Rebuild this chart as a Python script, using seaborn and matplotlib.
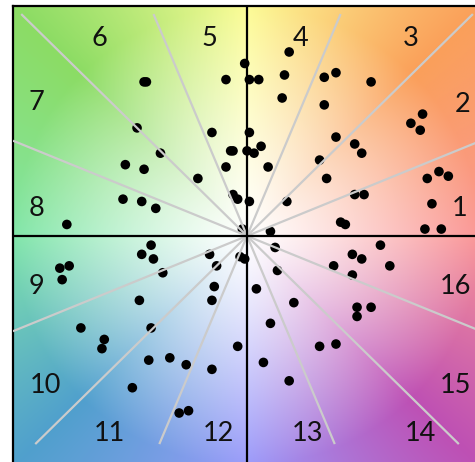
import numpy as np
import pandas as pd
import matplotlib
matplotlib.use("Agg")
import matplotlib.pyplot as plt
import seaborn as sns

# ---- data (x, y on a -100..100 scale) ----
x_vals = [-44, -43, -9, -47, -15, -37, -7, -6, -52, -44, -9, -21, -53, -45, -39, -6, -4, -77,
          -1, 18, 1, 5, 16, 15, 33, 38, 53, 33, 70, 75, 74, 1, 0, 3, 6, 9, 38, 46, 49, 31, 34,
          77, 82, 86, 46, 50, 1, 17, 79, 40, 42, 76, 83, 10, -2,
          -41, -45, -40, -36, -80, -76, -79, -16, -13, -14, -15, -46, -71, -41, -61, -62, -42,
          -33, -26, -15, -4, -49, -29, -25,
          12, -3, -1, 13, 4, 20, 10, 7, 18, 31, 38, 37, 45, 49, 45, 57, 61, 47, 53, 47]
y_vals = [67, 67, 68, 47, 45, 36, 37, 37, 31, 29, 30, 25, 16, 15, 12, 18, 16, 5,
          75, 80, 68, 68, 70, 60, 69, 71, 67, 57, 49, 53, 46, 45, 37, 36, 39, 30, 43, 40, 36, 33, 25,
          25, 28, 26, 18, 18, 15, 15, 14, 6, 5, 3, 3, 2, 3,
          -4, -8, -10, -16, -14, -13, -19, -8, -13, -22, -28, -28, -40, -40, -45, -49, -54,
          -53, -56, -58, -48, -66, -77, -76,
          -5, -9, -10, -15, -23, -29, -38, -55, -63, -48, -47, -13, -8, -10, -17, -4, -13, -31, -31, -35]

sector_labels = [str(i) for i in range(1, 17)]
label_x = [91, 92, 70, 23, -16, -63, -90, -90, -90, -86, -59, -12, 26, 74, 89, 89]
label_y = [12, 57, 86, 86, 86, 86, 58, 12, -22, -65, -86, -86, -86, -86, -65, -22]

divider_angles = [22.5, 45, 67.5, 112.5, 135, 157.5, 202.5, 225, 247.5, 292.5, 315, 337.5]

# background colour anchors by direction (degrees, counter-clockwise from right)
anchor_angles = [0, 45, 90, 135, 180, 225, 270, 315, 360]
anchor_colors = [(250, 150, 150), (250, 160, 90), (252, 252, 150), (140, 220, 100),
                 (130, 230, 170), (80, 160, 205), (155, 155, 250), (190, 80, 180),
                 (250, 150, 150)]

df = pd.DataFrame({"x": x_vals, "y": y_vals})

W, H = 475, 462
fig = plt.figure(figsize=(W / 100, H / 100), dpi=100)
ax = fig.add_axes([13 / W, 0, (W - 13) / W, (H - 6) / H])

xmin, xmax, ymin, ymax = -100, 97.4, -98.3, 100

# gradient background
gx = np.linspace(xmin, xmax, 400)
gy = np.linspace(ymin, ymax, 400)
GX, GY = np.meshgrid(gx, gy)
ang = np.degrees(np.arctan2(GY, GX)) % 360
rad = np.clip(np.hypot(GX, GY) / 100.0, 0, 1) ** 1.2
ac = np.array(anchor_colors, dtype=float) / 255.0
img = np.zeros(GX.shape + (3,))
for c in range(3):
    base = np.interp(ang, anchor_angles, ac[:, c])
    img[..., c] = 1.0 - rad * (1.0 - base)
ax.imshow(img, extent=[xmin, xmax, ymin, ymax], origin="lower", aspect="auto", zorder=0)

sns.scatterplot(data=df, x="x", y="y", color="black", s=48, edgecolor="none",
                ax=ax, zorder=3, legend=False)

# sector divider lines
top, bottom, side = 96.5, -90.5, 100
for a in divider_angles:
    c, s = np.cos(np.radians(a)), np.sin(np.radians(a))
    ts = []
    if abs(c) > 1e-9:
        ts.append(side / abs(c))
    if s > 1e-9:
        ts.append(top / s)
    if s < -1e-9:
        ts.append(bottom / s)
    t = min(ts)
    ax.plot([0, c * t], [0, s * t], color="#cbcbcb", lw=1.6, zorder=4, solid_capstyle="butt")

ax.axhline(0, color="black", lw=1.6, zorder=5)
ax.axvline(0, color="black", lw=1.6, zorder=5)

for lab, lx, ly in zip(sector_labels, label_x, label_y):
    ax.text(lx, ly, lab, ha="center", va="center", fontsize=19.5, family=["Lato", "DejaVu Sans"],
            color="#111111", zorder=6)

ax.set_xlim(xmin, xmax)
ax.set_ylim(ymin, ymax)
ax.set_xticks([])
ax.set_yticks([])
ax.set_xlabel("")
ax.set_ylabel("")
for sp in ["right", "bottom"]:
    ax.spines[sp].set_visible(False)
for sp in ["left", "top"]:
    ax.spines[sp].set_linewidth(1.6)
    ax.spines[sp].set_color("black")

fig.savefig("out.png", dpi=100)
